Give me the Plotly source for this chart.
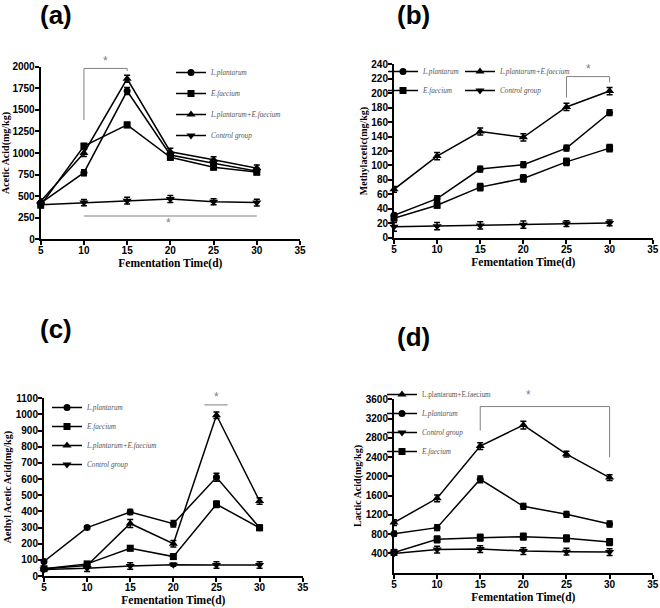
import plotly.graph_objects as go

# ---------------- data ----------------
days = [5, 10, 15, 20, 25, 30]
x_ticks = [5, 10, 15, 20, 25, 30, 35]

names = ["L.plantarum", "E.faecium", "L.plantarum+E.faecium", "Control group"]

# (a) Acetic acid
a_lp = [420, 772, 1718, 977, 882, 790]
a_ef = [395, 1080, 1325, 950, 835, 778]
a_mix = [440, 1000, 1860, 1015, 922, 825]
a_ctrl = [400, 425, 448, 467, 436, 425]
a_lp_err = [30, 35, 40, 30, 30, 30]
a_ef_err = [30, 30, 30, 30, 30, 30]
a_mix_err = [30, 40, 40, 40, 35, 35]
a_ctrl_err = [20, 35, 40, 40, 35, 40]
a_ticks = [0, 250, 500, 750, 1000, 1250, 1500, 1750, 2000]

# (b) Methylacetic
b_lp = [31, 54, 95, 101, 124, 173]
b_ef = [27, 45, 70, 82, 105, 124]
b_mix = [67, 113, 147, 139, 181, 203]
b_ctrl = [15, 16, 17, 18, 19.5, 20.5]
b_lp_err = [3, 4, 4, 4, 4, 4]
b_ef_err = [3, 4, 5, 5, 5, 5]
b_mix_err = [4, 5, 5, 5, 5, 5]
b_ctrl_err = [6, 5, 5, 5, 4, 4]
b_ticks = list(range(0, 241, 20))

# (c) Aethyl acetic acid
c_lp = [90, 300, 396, 324, 611, 299]
c_ef = [45, 75, 172, 120, 444, 298]
c_mix = [45, 65, 325, 200, 995, 464]
c_ctrl = [40, 48, 62, 70, 68, 68]
c_lp_err = [10, 10, 15, 20, 25, 15]
c_ef_err = [10, 10, 15, 15, 20, 15]
c_mix_err = [10, 10, 25, 20, 20, 20]
c_ctrl_err = [8, 20, 20, 10, 20, 20]
c_ticks = list(range(0, 1101, 100))

# (d) Lactic acid
d_mix = [1040, 1545, 2630, 3065, 2460, 1975]
d_lp = [810, 935, 1940, 1378, 1212, 1011]
d_ef = [420, 692, 727, 748, 713, 637]
d_ctrl = [400, 480, 490, 450, 436, 429]
d_mix_err = [60, 70, 70, 80, 60, 60]
d_lp_err = [50, 60, 70, 60, 60, 60]
d_ef_err = [60, 70, 70, 70, 70, 70]
d_ctrl_err = [40, 70, 70, 70, 70, 70]
d_ticks = [400, 800, 1200, 1600, 2000, 2400, 2800, 3200, 3600]

symbols = {
    "L.plantarum": "circle",
    "E.faecium": "square",
    "L.plantarum+E.faecium": "triangle-up",
    "Control group": "triangle-down",
}
msize = {"circle": 7, "square": 7, "triangle-up": 8, "triangle-down": 8}

fig = go.Figure()


def add_series(xa, ya, name, y, err, legend, rank, italic=True):
    sym = symbols[name]
    fig.add_trace(go.Scatter(
        x=days, y=y, mode="lines+markers",
        name=("<i>%s</i>" % name) if italic else name,
        line=dict(color="black", width=1.5),
        marker=dict(symbol=sym, size=msize[sym], color="black"),
        error_y=dict(type="data", array=err, color="black", thickness=1.5, width=3),
        xaxis=xa, yaxis=ya, legend=legend, legendrank=rank,
        legendgroup="%s_%d" % (legend, rank), cliponaxis=False,
    ))


# panel a
add_series("x", "y", names[0], a_lp, a_lp_err, "legend", 1)
add_series("x", "y", names[1], a_ef, a_ef_err, "legend", 2)
add_series("x", "y", names[2], a_mix, a_mix_err, "legend", 3)
add_series("x", "y", names[3], a_ctrl, a_ctrl_err, "legend", 4)
# panel b
add_series("x2", "y2", names[0], b_lp, b_lp_err, "legend2", 1)
add_series("x2", "y2", names[1], b_ef, b_ef_err, "legend2", 2)
add_series("x2", "y2", names[2], b_mix, b_mix_err, "legend5", 1)
add_series("x2", "y2", names[3], b_ctrl, b_ctrl_err, "legend5", 2)
# panel c
add_series("x3", "y3", names[0], c_lp, c_lp_err, "legend3", 1)
add_series("x3", "y3", names[1], c_ef, c_ef_err, "legend3", 2)
add_series("x3", "y3", names[2], c_mix, c_mix_err, "legend3", 3)
add_series("x3", "y3", names[3], c_ctrl, c_ctrl_err, "legend3", 4)
# panel d
add_series("x4", "y4", names[2], d_mix, d_mix_err, "legend4", 1, italic=False)
add_series("x4", "y4", names[0], d_lp, d_lp_err, "legend4", 2)
add_series("x4", "y4", names[3], d_ctrl, d_ctrl_err, "legend4", 3)
add_series("x4", "y4", names[1], d_ef, d_ef_err, "legend4", 4)

W, H = 660, 608
tick_font = dict(family="Liberation Sans", size=10, color="black", weight="bold")
title_font = dict(family="Liberation Serif", size=10, color="black", weight="bold")
xtitle_font = dict(family="Liberation Serif", size=11.5, color="black", weight="bold")


def xax(x0, x1, anchor):
    return dict(domain=[x0 / W, x1 / W], range=[5, 35], tickvals=x_ticks,
                showline=True, linewidth=2, linecolor="black", ticks="outside",
                ticklen=4, tickwidth=2, tickcolor="black", showgrid=False, zeroline=False,
                tickfont=tick_font, anchor=anchor, automargin=False, ticklabelstandoff=-3,
                title=dict(text="Fementation Time(d)", font=xtitle_font, standoff=4))


def yax(y_bottom, y_top, rng, tv, title, anchor):
    return dict(domain=[1 - y_bottom / H, 1 - y_top / H], range=rng, tickvals=tv,
                showline=True, linewidth=2, linecolor="black", ticks="outside",
                ticklen=4, tickwidth=2, tickcolor="black", showgrid=False, zeroline=False,
                tickfont=tick_font, anchor=anchor, automargin=False, ticklabelstandoff=-2,
                title=dict(text=title, font=title_font, standoff=2))


leg_common = dict(xanchor="left", yanchor="top", bgcolor="rgba(0,0,0,0)", borderwidth=0,
                  font=dict(family="Liberation Serif", size=7.2, color="#555"),
                  itemwidth=30, xref="paper", yref="paper")

fig.update_layout(
    width=W, height=H, margin=dict(l=0, r=0, t=0, b=0),
    template="none", paper_bgcolor="white", plot_bgcolor="white",
    showlegend=True,
    xaxis=xax(40.7, 300, "y"),
    yaxis=yax(239.3, 66.7, [0, 2000], a_ticks, "Acetic Acid(mg/kg)", "x"),
    xaxis2=xax(394, 652.7, "y2"),
    yaxis2=yax(237.7, 64.3, [0, 240], b_ticks, "Methylacetic(mg/kg)", "x2"),
    xaxis3=xax(44, 302.7, "y3"),
    yaxis3=yax(576, 398.3, [0, 1100], c_ticks, "Aethyl Acetic Acid(mg/kg)", "x3"),
    xaxis4=xax(394, 652.7, "y4"),
    yaxis4=yax(572.7, 399.3, [0, 3600], d_ticks, "Lactic Acid(mg/kg)", "x4"),
    legend=dict(x=171 / W, y=1 - 58 / H, tracegroupgap=2, **leg_common),
    legend2=dict(x=383 / W, y=1 - 57 / H, tracegroupgap=0, **leg_common),
    legend5=dict(x=460 / W, y=1 - 57 / H, tracegroupgap=0, **leg_common),
    legend3=dict(x=47 / W, y=1 - 393 / H, tracegroupgap=0, **leg_common),
    legend4=dict(x=382 / W, y=1 - 380 / H, tracegroupgap=0, **leg_common),
)

# panel labels
for txt, cx, cy in [("(a)", 56, 15), ("(b)", 413, 15), ("(c)", 56, 329), ("(d)", 413, 337)]:
    fig.add_annotation(text=txt, x=cx / W, y=1 - cy / H, xref="paper", yref="paper",
                       showarrow=False, xanchor="center", yanchor="middle",
                       font=dict(family="Liberation Sans", size=26, color="black", weight="bold"))

gray = "#808080"
# significance marks
sig_lines = [
    ("x", "y", [(10, 1382, 10, 1980), (10, 1980, 15, 1980), (15, 1980, 15, 1950), (10, 270, 30, 270)]),
    ("x2", "y2", [(25, 194, 25, 223), (25, 223, 30, 223), (30, 223, 30, 215)]),
    ("x3", "y3", [(23.6, 1059, 26.3, 1059)]),
    ("x4", "y4", [(15, 2950, 15, 3449), (15, 3449, 30, 3449), (30, 3449, 30, 2396)]),
]
for xa, ya, segs in sig_lines:
    for x0, y0, x1, y1 in segs:
        fig.add_shape(type="line", xref=xa, yref=ya, x0=x0, y0=y0, x1=x1, y1=y1,
                      line=dict(color=gray, width=1))

# stars: (axis, x, y inside range, extra pixel shift up)
stars = [("x", "y", 12.5, 1999, 6), ("x", "y", 19.8, 193, 0), ("x2", "y2", 27.5, 234, 0),
         ("x3", "y3", 25, 1099, 1), ("x4", "y4", 20.6, 3599, 4)]
for xa, ya, sx, sy, shift in stars:
    fig.add_annotation(text="*", xref=xa, yref=ya, x=sx, y=sy, showarrow=False, yshift=shift,
                       font=dict(family="Liberation Sans", size=12, color=gray))

fig.write_html("out.html", config={"displayModeBar": False},
               post_script="document.body.style.margin='0';")
